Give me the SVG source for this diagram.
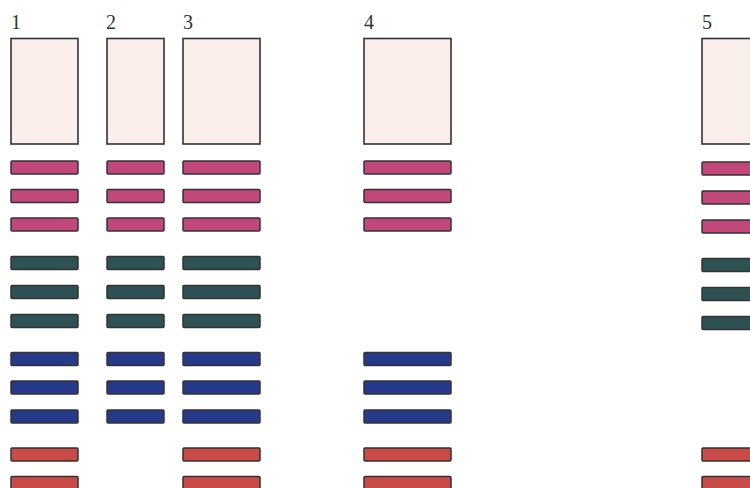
<svg xmlns="http://www.w3.org/2000/svg" width="750" height="488" viewBox="0 0 750 488">
<style>
.lbl{font-family:"Liberation Serif","Times New Roman",serif;font-size:20px;fill:#333}
.box{fill:#f9eeea;stroke:#333;stroke-width:1.6}
.bar{stroke:#333;stroke-width:1.5}
.pk{fill:#c2487b}
.tl{fill:#2e5253}
.bl{fill:#26398a}
.rd{fill:#c84b47}
</style>
<rect width="750" height="488" fill="#fff"/>
<g id="col1">
<text class="lbl" x="11" y="29">1</text>
<rect class="box" x="11" y="38.5" width="67" height="105.5"/>
<rect class="bar pk" x="11" y="161" width="67" height="13" rx="1"/>
<rect class="bar pk" x="11" y="189.5" width="67" height="13" rx="1"/>
<rect class="bar pk" x="11" y="218" width="67" height="13" rx="1"/>
<rect class="bar tl" x="11" y="256.5" width="67" height="13" rx="1"/>
<rect class="bar tl" x="11" y="285.5" width="67" height="13" rx="1"/>
<rect class="bar tl" x="11" y="314.5" width="67" height="13" rx="1"/>
<rect class="bar bl" x="11" y="352.5" width="67" height="13" rx="1"/>
<rect class="bar bl" x="11" y="381" width="67" height="13" rx="1"/>
<rect class="bar bl" x="11" y="410" width="67" height="13" rx="1"/>
<rect class="bar rd" x="11" y="448" width="67" height="13" rx="1"/>
<rect class="bar rd" x="11" y="476.5" width="67" height="13" rx="1"/>
</g>
<g id="col2">
<text class="lbl" x="106" y="29">2</text>
<rect class="box" x="107" y="38.5" width="57" height="105.5"/>
<rect class="bar pk" x="107" y="161" width="57" height="13" rx="1"/>
<rect class="bar pk" x="107" y="189.5" width="57" height="13" rx="1"/>
<rect class="bar pk" x="107" y="218" width="57" height="13" rx="1"/>
<rect class="bar tl" x="107" y="256.5" width="57" height="13" rx="1"/>
<rect class="bar tl" x="107" y="285.5" width="57" height="13" rx="1"/>
<rect class="bar tl" x="107" y="314.5" width="57" height="13" rx="1"/>
<rect class="bar bl" x="107" y="352.5" width="57" height="13" rx="1"/>
<rect class="bar bl" x="107" y="381" width="57" height="13" rx="1"/>
<rect class="bar bl" x="107" y="410" width="57" height="13" rx="1"/>
</g>
<g id="col3">
<text class="lbl" x="183" y="29">3</text>
<rect class="box" x="183" y="38.5" width="77" height="105.5"/>
<rect class="bar pk" x="183" y="161" width="77" height="13" rx="1"/>
<rect class="bar pk" x="183" y="189.5" width="77" height="13" rx="1"/>
<rect class="bar pk" x="183" y="218" width="77" height="13" rx="1"/>
<rect class="bar tl" x="183" y="256.5" width="77" height="13" rx="1"/>
<rect class="bar tl" x="183" y="285.5" width="77" height="13" rx="1"/>
<rect class="bar tl" x="183" y="314.5" width="77" height="13" rx="1"/>
<rect class="bar bl" x="183" y="352.5" width="77" height="13" rx="1"/>
<rect class="bar bl" x="183" y="381" width="77" height="13" rx="1"/>
<rect class="bar bl" x="183" y="410" width="77" height="13" rx="1"/>
<rect class="bar rd" x="183" y="448" width="77" height="13" rx="1"/>
<rect class="bar rd" x="183" y="476.5" width="77" height="13" rx="1"/>
</g>
<g id="col4">
<text class="lbl" x="364" y="29">4</text>
<rect class="box" x="364" y="38.5" width="87" height="105.5"/>
<rect class="bar pk" x="364" y="161" width="87" height="13" rx="1"/>
<rect class="bar pk" x="364" y="189.5" width="87" height="13" rx="1"/>
<rect class="bar pk" x="364" y="218" width="87" height="13" rx="1"/>
<rect class="bar bl" x="364" y="352.5" width="87" height="13" rx="1"/>
<rect class="bar bl" x="364" y="381" width="87" height="13" rx="1"/>
<rect class="bar bl" x="364" y="410" width="87" height="13" rx="1"/>
<rect class="bar rd" x="364" y="448" width="87" height="13" rx="1"/>
<rect class="bar rd" x="364" y="476.5" width="87" height="13" rx="1"/>
</g>
<g id="col5">
<text class="lbl" x="702" y="29">5</text>
<rect class="box" x="702" y="38.5" width="80" height="105.5"/>
<rect class="bar pk" x="702" y="162" width="80" height="13" rx="1"/>
<rect class="bar pk" x="702" y="191" width="80" height="13" rx="1"/>
<rect class="bar pk" x="702" y="220" width="80" height="13" rx="1"/>
<rect class="bar tl" x="702" y="258.5" width="80" height="13" rx="1"/>
<rect class="bar tl" x="702" y="287.5" width="80" height="13" rx="1"/>
<rect class="bar tl" x="702" y="316.5" width="80" height="13" rx="1"/>
<rect class="bar rd" x="702" y="448" width="80" height="13" rx="1"/>
<rect class="bar rd" x="702" y="476.5" width="80" height="13" rx="1"/>
</g>
<g id="connectors"/>
</svg>
